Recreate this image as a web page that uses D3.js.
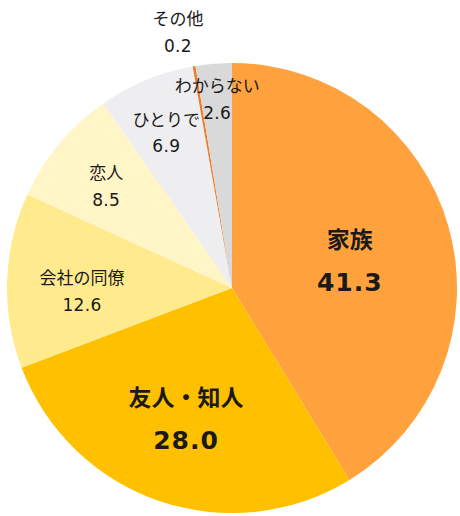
<!DOCTYPE html>
<html>
<head>
<meta charset="utf-8">
<script src="https://cdn.jsdelivr.net/npm/d3@7"></script>
<style>
  html, body { margin: 0; padding: 0; background: #fff; }
  .jp { font-family: "Noto Sans CJK JP", sans-serif; }
  .num { font-family: "DejaVu Sans", sans-serif; }
</style>
</head>
<body>
<div id="chart"></div>
<script>
// data, clockwise from 12 o'clock
var categories = ["家族", "友人・知人", "会社の同僚", "恋人", "ひとりで", "その他", "わからない"];
var values = [41.3, 28.0, 12.6, 8.5, 6.9, 0.2, 2.6];
var valueLabels = ["41.3", "28.0", "12.6", "8.5", "6.9", "0.2", "2.6"];

(function()
{
    "use strict";

    var width = 460, h = 516;
    var cx = 232, cy = 288, radius = 225;

    var colors = ["#FFA13C", "#FFC000", "#FFEA8E", "#FFF5C6", "#EEEEF0", "#F07A28", "#D9D9D9"];
    var bold = [true, true, false, false, false, false, false];
    // label distance from centre and a small angle nudge (degrees)
    var labelR = [121, 138, 150, 162, 169, 262, 190];
    var labelNudge = [2.4, 0.6, -3, -0.8, -0.4, -2.2, 0.2];

    var svg = d3.select("#chart")
                .append("svg")
                .attr("width", width)
                .attr("height", h);

    var pie = d3.pie()
                .sort(null)
                .value(function(d) { return d; });

    var arcs = pie(values);

    var arc = d3.arc()
                .innerRadius(0)
                .outerRadius(radius);

    var g = svg.append("g")
               .attr("transform", `translate(${cx},${cy})`);

    g.selectAll("path")
        .data(arcs)
      .enter().append("path")
        .attr("d", arc)
        .attr("fill", function(d, i) { return colors[i]; });

    // labels
    var lab = g.selectAll("g.lab")
        .data(arcs)
      .enter().append("g")
        .attr("class", "lab")
        .attr("transform", function(d, i) {
            var a = (d.startAngle + d.endAngle) / 2 + labelNudge[i] * Math.PI / 180;
            var r = labelR[i];
            return `translate(${Math.sin(a) * r},${-Math.cos(a) * r})`;
        });

    lab.append("text")
        .attr("class", "jp")
        .attr("text-anchor", "middle")
        .attr("dominant-baseline", "central")
        .attr("y", function(d, i) { return bold[i] ? -22 : -14; })
        .attr("font-size", function(d, i) { return bold[i] ? 23 : 17; })
        .attr("font-weight", function(d, i) { return bold[i] ? 700 : 400; })
        .attr("fill", "#1a1a1a")
        .text(function(d, i) { return categories[i]; });

    lab.append("text")
        .attr("class", "num")
        .attr("text-anchor", "middle")
        .attr("dominant-baseline", "central")
        .attr("y", function(d, i) { return bold[i] ? 22 : 14; })
        .attr("font-size", function(d, i) { return bold[i] ? 25 : 17; })
        .attr("letter-spacing", function(d, i) { return bold[i] ? 1 : 0.3; })
        .attr("font-weight", function(d, i) { return bold[i] ? 700 : 400; })
        .attr("fill", "#1a1a1a")
        .text(function(d, i) { return valueLabels[i]; });
})();
</script>
</body>
</html>
